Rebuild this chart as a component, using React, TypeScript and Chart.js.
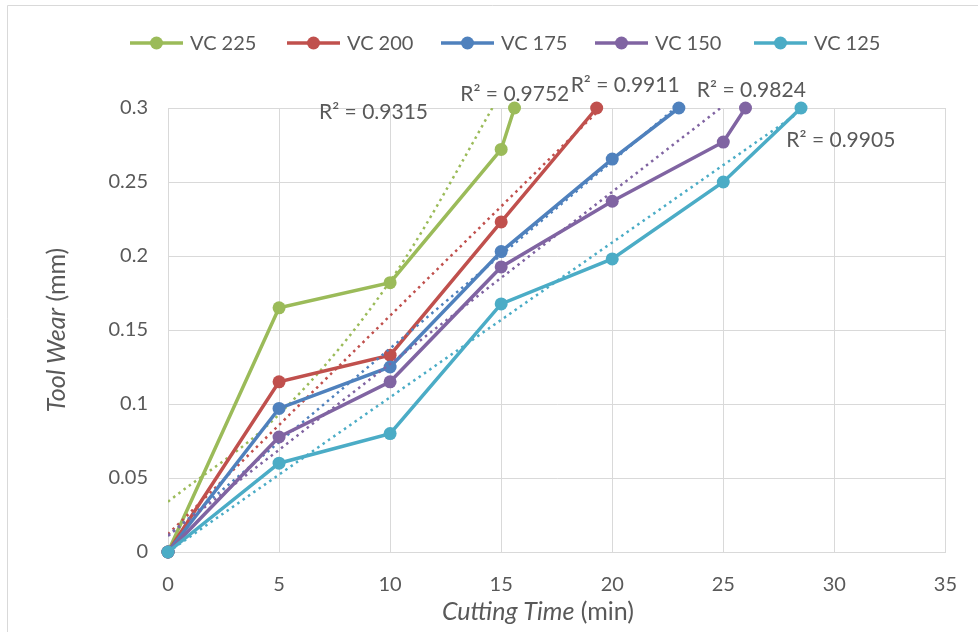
import React, { useEffect, useRef } from "react";
import { Chart, registerables } from "chart.js";

Chart.register(...registerables);

// ---- data ----
const seriesNames = ["VC 225", "VC 200", "VC 175", "VC 150", "VC 125"];
const seriesColors = ["#9BBB59", "#C0504D", "#4F81BD", "#8064A2", "#4BACC6"];

const vc225X = [0, 5, 10, 15, 15.6];
const vc225Y = [0, 0.165, 0.182, 0.272, 0.3];
const vc200X = [0, 5, 10, 15, 19.3];
const vc200Y = [0, 0.115, 0.133, 0.223, 0.3];
const vc175X = [0, 5, 10, 15, 20, 23];
const vc175Y = [0, 0.097, 0.125, 0.203, 0.2655, 0.3];
const vc150X = [0, 5, 10, 15, 20, 25, 26];
const vc150Y = [0, 0.0777, 0.115, 0.1926, 0.237, 0.277, 0.3];
const vc125X = [0, 5, 10, 15, 20, 25, 28.5];
const vc125Y = [0, 0.06, 0.08, 0.1676, 0.198, 0.25, 0.3];

// trendlines, points (VC 225's is curved)
const trend225X = [0, 5, 10, 15.6];
const trend225Y = [0.034, 0.093, 0.183, 0.326];
const trend200X = [0, 19.3];
const trend200Y = [0.012, 0.297];
const trend175X = [0, 23];
const trend175Y = [0.011, 0.302];
const trend150X = [0, 26];
const trend150Y = [0.011, 0.313];
const trend125X = [0, 28.5];
const trend125Y = [0.0, 0.298];

const r2Labels = ["R² = 0.9315", "R² = 0.9752", "R² = 0.9911", "R² = 0.9824", "R² = 0.9905"];
const r2LabelX = [6.8, 13.16, 18.13, 23.81, 27.84];
const r2LabelY = [0.2973, 0.3095, 0.3155, 0.3122, 0.2784];

const xTickMax = 35;
const xTickStep = 5;
const yTickMax = 0.3;
const yTickStep = 0.05;

const xTitleItalic = "Cutting Time";
const xTitleNormal = " (min)";
const yTitleItalic = "Tool Wear";
const yTitleNormal = " (mm)";

const FONT = "Lato, 'Open Sans', sans-serif";
const TEXT = "#595959";
const GRID = "#d9d9d9";

const allX = [vc225X, vc200X, vc175X, vc150X, vc125X];
const allY = [vc225Y, vc200Y, vc175Y, vc150Y, vc125Y];
const trendX = [trend225X, trend200X, trend175X, trend150X, trend125X];
const trendY = [trend225Y, trend200Y, trend175Y, trend150Y, trend125Y];

const overlayPlugin = {
  id: "overlay",
  afterDraw(chart: any) {
    const ctx = chart.ctx as CanvasRenderingContext2D;
    const xs = chart.scales.x;
    const ys = chart.scales.y;
    ctx.save();

    // outer frame
    ctx.strokeStyle = GRID;
    ctx.lineWidth = 1;
    ctx.beginPath();
    ctx.moveTo(7.5, 632);
    ctx.lineTo(7.5, 5.5);
    ctx.lineTo(978, 5.5);
    ctx.stroke();

    // legend
    const legendX = [130, 287, 441, 595, 754];
    const ly = 43;
    ctx.font = `20px ${FONT}`;
    ctx.textBaseline = "middle";
    ctx.textAlign = "left";
    seriesNames.forEach((name, i) => {
      const lx = legendX[i];
      ctx.strokeStyle = seriesColors[i];
      ctx.lineWidth = 3.5;
      ctx.beginPath();
      ctx.moveTo(lx, ly);
      ctx.lineTo(lx + 53, ly);
      ctx.stroke();
      ctx.fillStyle = seriesColors[i];
      ctx.beginPath();
      ctx.arc(lx + 26.5, ly, 6.5, 0, Math.PI * 2);
      ctx.fill();
      ctx.fillStyle = TEXT;
      ctx.fillText(name, lx + 60, ly + 1);
    });

    // R² labels
    ctx.font = `21px ${FONT}`;
    ctx.fillStyle = TEXT;
    ctx.textBaseline = "middle";
    r2Labels.forEach((t, i) => {
      ctx.fillText(t, xs.getPixelForValue(r2LabelX[i]), ys.getPixelForValue(r2LabelY[i]));
    });

    const TS = 25;
    // x title
    const area = chart.chartArea;
    ctx.font = `italic ${TS}px ${FONT}`;
    const wI = ctx.measureText(xTitleItalic).width;
    ctx.font = `${TS}px ${FONT}`;
    const wN = ctx.measureText(xTitleNormal).width;
    const cx = 538;
    const sx = cx - (wI + wN) / 2;
    ctx.textBaseline = "middle";
    ctx.font = `italic ${TS}px ${FONT}`;
    ctx.fillText(xTitleItalic, sx, 612);
    ctx.font = `${TS}px ${FONT}`;
    ctx.fillText(xTitleNormal, sx + wI, 612);

    // y title
    ctx.save();
    ctx.translate(57, 330);
    ctx.rotate(-Math.PI / 2);
    ctx.font = `italic ${TS}px ${FONT}`;
    const yI = ctx.measureText(yTitleItalic).width;
    ctx.font = `${TS}px ${FONT}`;
    const yN = ctx.measureText(yTitleNormal).width;
    const sy = -(yI + yN) / 2;
    ctx.font = `italic ${TS}px ${FONT}`;
    ctx.fillText(yTitleItalic, sy, 0);
    ctx.font = `${TS}px ${FONT}`;
    ctx.fillText(yTitleNormal, sy + yI, 0);
    ctx.restore();

    ctx.restore();
  },
};

export default function App() {
  const ref = useRef<HTMLCanvasElement>(null);

  useEffect(() => {
    document.body.style.margin = "0";
    const datasets: any[] = [];
    seriesNames.forEach((name, i) => {
      const xsArr = allX[i];
      const ysArr = allY[i];
      datasets.push({
        label: name,
        data: xsArr.map((x, k) => ({ x, y: ysArr[k] })),
        borderColor: seriesColors[i],
        backgroundColor: seriesColors[i],
        borderWidth: 3.5,
        pointRadius: 6.5,
        pointHoverRadius: 6.5,
        pointBorderWidth: 0,
        showLine: true,
        clip: false,
        order: (4 - i) * 2 + 1,
      });
      const tx = trendX[i];
      const ty = trendY[i];
      datasets.push({
        label: name + " trend",
        data: tx.map((x, k) => ({ x, y: ty[k] })),
        borderColor: seriesColors[i],
        backgroundColor: seriesColors[i],
        borderWidth: 2.5,
        borderDash: [2.5, 4],
        pointRadius: 0,
        showLine: true,
        cubicInterpolationMode: "monotone",
        clip: { left: 0, top: 0, right: 0, bottom: 0 },
        order: (4 - i) * 2,
      });
    });

    const chart = new Chart(ref.current!, {
      type: "scatter",
      data: { datasets },
      options: {
        animation: false,
        responsive: false,
        layout: { padding: { top: 108, right: 28, left: 0, bottom: 0 } },
        plugins: { legend: { display: false }, tooltip: { enabled: false } },
        scales: {
          x: {
            type: "linear",
            min: 0,
            max: xTickMax,
            afterFit: (s: any) => {
              s.height = 80;
            },
            ticks: {
              stepSize: xTickStep,
              color: TEXT,
              font: { family: FONT, size: 20 },
              padding: 21,
              maxRotation: 0,
            },
            grid: { color: GRID, lineWidth: 1, drawTicks: false },
            border: { color: GRID, width: 1 },
          },
          y: {
            type: "linear",
            min: 0,
            max: yTickMax,
            afterFit: (s: any) => {
              s.width = 168;
            },
            ticks: {
              stepSize: yTickStep,
              color: TEXT,
              font: { family: FONT, size: 20 },
              padding: 20,
              callback: (v: any) => String(Number(Number(v).toFixed(2))),
            },
            grid: { color: GRID, lineWidth: 1, drawTicks: false },
            border: { color: GRID, width: 1 },
          },
        },
      },
      plugins: [overlayPlugin],
    });
    return () => chart.destroy();
  }, []);

  return (
    <div style={{ width: 978, height: 632, position: "relative", background: "#fff" }}>
      <canvas ref={ref} width={978} height={632} />
    </div>
  );
}
